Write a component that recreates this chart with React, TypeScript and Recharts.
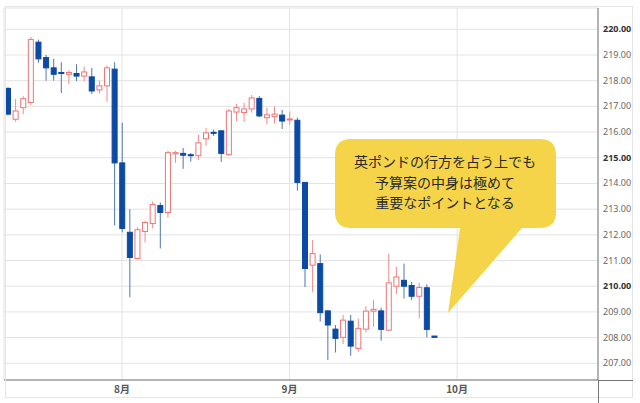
import { ComposedChart, Bar, XAxis, YAxis, CartesianGrid } from 'recharts'

// 日足 OHLC
const opens = [
  217.7, 216.5, 216.95, 217.15, 219.5, 218.9, 218.5, 218.32, 218.25, 218.28,
  218.18, 218.15, 217.64, 217.8, 218.45, 214.8, 212.1, 211.08, 212.13, 212.44,
  213.14, 212.87, 215.15, 215.17, 215.12, 215.08, 215.74, 215.99, 216.05, 215.12,
  216.78, 216.76, 216.9, 217.31, 216.56, 216.6, 216.66, 216.49, 216.46, 214.04,
  210.82, 210.88, 209.04, 208.33, 208.01, 208.64, 207.58, 208.33, 209.03, 209.04,
  208.29, 210.0, 210.23, 210.03, 209.61, 209.94, 208.06,
]
const highs = [
  217.75, 217.29, 217.4, 219.7, 219.6, 219.0, 218.85, 218.72, 218.41, 218.64,
  218.55, 218.5, 218.0, 218.6, 218.72, 216.36, 213.0, 212.3, 212.55, 213.3,
  213.26, 215.27, 215.27, 215.38, 215.18, 215.9, 216.16, 216.1, 216.06, 216.9,
  217.1, 217.14, 217.44, 217.4, 216.95, 217.0, 216.86, 216.8, 216.56, 214.06,
  211.8, 211.24, 209.06, 208.49, 208.88, 208.88, 208.74, 209.22, 209.46, 209.17,
  211.27, 210.75, 210.88, 210.17, 210.13, 210.07, 208.07,
]
const lows = [
  216.65, 216.4, 216.7, 217.05, 218.7, 218.0, 218.0, 217.52, 217.87, 217.98,
  217.98, 217.48, 217.5, 217.17, 212.37, 212.1, 209.57, 211.05, 211.7, 212.25,
  211.47, 212.67, 214.8, 214.57, 214.85, 214.92, 215.47, 215.85, 214.84, 215.08,
  216.43, 216.4, 216.76, 216.58, 216.3, 216.33, 216.12, 216.3, 213.72, 209.97,
  209.78, 208.62, 207.13, 207.42, 207.75, 207.29, 207.45, 208.2, 208.42, 207.88,
  208.27, 209.69, 209.52, 209.46, 208.75, 208.01, 208.0,
]
const closes = [
  216.7, 216.82, 217.3, 219.6, 218.85, 218.5, 218.25, 218.28, 218.32, 218.18,
  218.34, 217.6, 217.8, 218.5, 214.8, 212.25, 211.12, 212.2, 212.48, 213.18,
  212.87, 215.2, 215.2, 215.1, 215.08, 215.58, 215.97, 215.96, 215.17, 216.82,
  216.95, 216.9, 217.33, 216.63, 216.67, 216.7, 216.43, 216.51, 214.04, 210.69,
  211.27, 208.97, 208.49, 207.97, 208.68, 207.67, 208.36, 209.03, 209.1, 208.32,
  210.13, 210.36, 210.0, 209.61, 209.95, 208.32, 208.01,
]

const slotCount = 78 // 10月以降の空白期間も含む
const monthTickIndex = [15, 37, 59]
const monthLabels = ['8月', '9月', '10月']
const priceTicks = [207, 208, 209, 210, 211, 212, 213, 214, 215, 216, 217, 218, 219, 220]
const calloutLines = ['英ポンドの行方を占う上でも', '予算案の中身は極めて', '重要なポイントとなる']

const data = Array.from({ length: slotCount }, (_, i) => ({
  key: `d${i}`,
  open: opens[i],
  high: highs[i],
  low: lows[i],
  close: closes[i],
  range: i < opens.length ? [lows[i], highs[i]] : null,
}))

const FONT = '"Noto Sans CJK JP", "Noto Sans", sans-serif'
const UP = '#ef7474'
const DOWN = '#0c4aa3'

function Candle(props: any) {
  const { x, y, width, height, payload } = props
  if (!payload || payload.open == null || !height) return null
  const { open, high, low, close } = payload
  const k = height / (high - low)
  const yOpen = y + (high - open) * k
  const yClose = y + (high - close) * k
  const up = close >= open
  const cx = x + width / 2
  const top = Math.min(yOpen, yClose)
  const h = Math.max(Math.abs(yOpen - yClose), 1)
  return (
    <g>
      <line x1={cx} x2={cx} y1={y} y2={y + height} stroke={up ? '#f18a8a' : '#4f76b2'} strokeWidth={1} />
      <rect
        x={x + 0.5}
        y={top}
        width={width - 1}
        height={h}
        fill={up ? '#fff' : DOWN}
        stroke={up ? UP : DOWN}
        strokeWidth={1}
      />
    </g>
  )
}

function PriceTick({ x, y, payload }: any) {
  const major = payload.value % 5 === 0
  return (
    <text
      x={x}
      y={y}
      dy={3}
      fontSize={9}
      fontFamily='"Noto Sans", sans-serif'
      fill={major ? '#333' : '#666'}
      fontWeight={major ? 700 : 400}
      textAnchor="start"
    >
      {payload.value.toFixed(2)}
    </text>
  )
}

export default function App() {
  return (
    <div style={{ position: 'absolute', left: 0, top: 0, width: 640, height: 403, background: '#fff' }}>
      <ComposedChart
        width={640}
        height={403}
        data={data}
        margin={{ top: 8, right: 0, bottom: 0, left: 4 }}
        barCategoryGap={0}
      >
        <CartesianGrid stroke="#e3e3e3" />
        <XAxis
          dataKey="key"
          ticks={monthTickIndex.map((i) => `d${i}`)}
          interval={0}
          tickFormatter={(v: string) => monthLabels[monthTickIndex.indexOf(Number(v.slice(1)))]}
          tick={{ fontSize: 10, fill: '#555', fontFamily: FONT, fontWeight: 700 }}
          tickLine={false}
          tickSize={0}
          tickMargin={6}
          axisLine={{ stroke: '#777' }}
          height={23}
        />
        <YAxis
          orientation="right"
          domain={[206.35, 220.83]}
          ticks={priceTicks}
          allowDataOverflow
          tick={<PriceTick />}
          tickLine={false}
          tickSize={0}
          tickMargin={5}
          axisLine={{ stroke: '#777' }}
          width={42}
        />
        <Bar dataKey="range" shape={<Candle />} barSize={6} isAnimationActive={false} />
      </ComposedChart>

      <svg
        width={640}
        height={403}
        style={{ position: 'absolute', left: 0, top: 0, pointerEvents: 'none' }}
      >
        <rect x={5.5} y={6.5} width={627} height={391} fill="none" stroke="#e6e6e6" />
        <line x1={598} x2={633} y1={380.5} y2={380.5} stroke="#777" />
        <line x1={598.5} x2={598.5} y1={380} y2={403} stroke="#777" />
        <path d="M351 139 H540 Q556 139 556 155 V212 Q556 228 540 228 H522 L448 313 L460 228 H351 Q335 228 335 212 V155 Q335 139 351 139 Z" fill="#f6d44a" />
        {calloutLines.map((t, i) => (
          <text
            key={t}
            x={445}
            y={167 + i * 20.5}
            textAnchor="middle"
            fontSize={14}
            fontFamily={FONT}
            fill="#2a2a2a"
          >
            {t}
          </text>
        ))}
      </svg>
    </div>
  )
}
